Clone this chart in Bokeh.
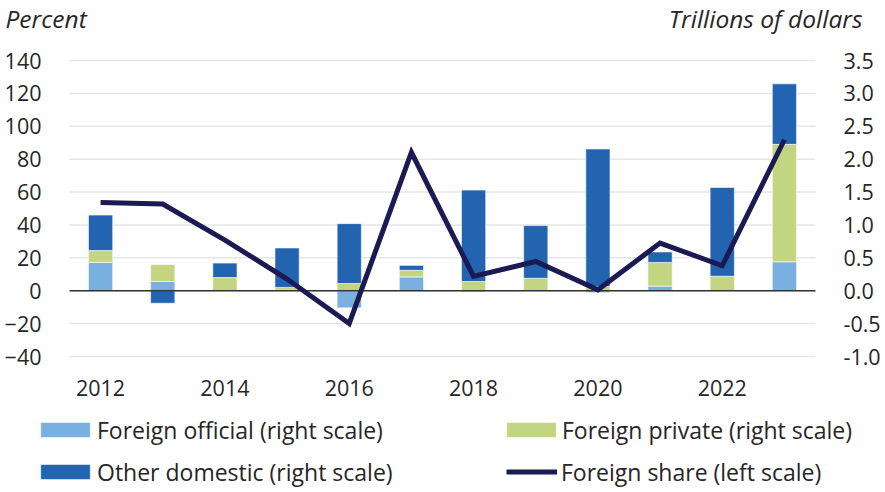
from bokeh.plotting import figure
from bokeh.models import (ColumnDataSource, Range1d, LinearAxis, FixedTicker,
                          Legend, LegendItem, Label, NumeralTickFormatter)
from bokeh.embed import file_html
from bokeh.resources import INLINE

years = [2012, 2013, 2014, 2015, 2016, 2017, 2018, 2019, 2020, 2021, 2022, 2023]
foreign_official = [0.43, 0.14, 0.00, 0.01, -0.26, 0.21, -0.02, 0.00, -0.03, 0.07, 0.00, 0.44]
foreign_private = [0.18, 0.26, 0.20, 0.04, 0.11, 0.10, 0.14, 0.19, 0.065, 0.36, 0.22, 1.785]
other_domestic = [0.54, -0.19, 0.22, 0.60, 0.91, 0.075, 1.39, 0.80, 2.09, 0.16, 1.35, 0.92]
foreign_share = [53.7, 52.7, 30.8, 7.1, -19.9, 84.1, 8.7, 17.8, 0.6, 29.0, 15.2, 91.8]

left_ticks = [-40, -20, 0, 20, 40, 60, 80, 100, 120, 140]
right_ticks = [-1.0, -0.5, 0.0, 0.5, 1.0, 1.5, 2.0, 2.5, 3.0, 3.5]
year_ticks = [2012, 2014, 2016, 2018, 2020, 2022]

names = ["Foreign official (right scale)", "Foreign private (right scale)",
         "Other domestic (right scale)"]
share_name = "Foreign share (left scale)"
left_title = "Percent"
right_title = "Trillions of dollars"
colors = ["#7AB0DF", "#C3D580", "#2264B0"]
line_color = "#1C1A52"
FONT = "Open Sans"
TXT = "#262626"

W, H = 885, 492
# plot area (in pixels) inside the full-canvas frame
PL, PR, PT, PB = 69, 815, 60, 356
X0, X1 = years[0] - 0.5, years[-1] + 0.5
Y0, Y1 = left_ticks[0], left_ticks[-1]
RATIO = 40.0  # percent per trillion
sx = (PR - PL) / (X1 - X0)
sy = (PB - PT) / (Y1 - Y0)
x_range = Range1d(X0 - PL / sx, X1 + (W - PR) / sx)
y_lo, y_hi = Y0 - (H - PB) / sy, Y1 + PT / sy

# positive / negative stacking
series = [foreign_official, foreign_private, other_domestic]
pos = [0.0] * len(years)
neg = [0.0] * len(years)
stacks = []
for s in series:
    bottoms, tops = [], []
    for i, v in enumerate(s):
        if v >= 0:
            bottoms.append(pos[i]); tops.append(pos[i] + v); pos[i] += v
        else:
            bottoms.append(neg[i]); tops.append(neg[i] + v); neg[i] += v
    stacks.append((bottoms, tops))

p = figure(width=W, height=H, output_backend="svg", toolbar_location=None,
           x_range=x_range, y_range=Range1d(y_lo, y_hi), min_border=0)
p.outline_line_color = None
p.extra_y_ranges = {"tr": Range1d(y_lo / RATIO, y_hi / RATIO)}
p.xgrid.visible = False
p.ygrid.visible = False

def style_axis(ax, standoff):
    ax.axis_line_color = None
    ax.major_tick_line_color = None
    ax.minor_tick_line_color = None
    ax.major_label_text_font = FONT
    ax.major_label_text_font_size = "21.5px"
    ax.major_label_text_color = TXT
    ax.major_label_standoff = standoff

p.yaxis.ticker = FixedTicker(ticks=left_ticks)
p.yaxis.fixed_location = X0
style_axis(p.yaxis[0], 22)
p.xaxis.ticker = FixedTicker(ticks=year_ticks)
p.xaxis.fixed_location = Y0
style_axis(p.xaxis[0], 17)

rax = LinearAxis(y_range_name="tr", ticker=FixedTicker(ticks=right_ticks),
                 formatter=NumeralTickFormatter(format="0.0"), fixed_location=X1)
style_axis(rax, 22)
p.add_layout(rax, "right")

# horizontal grid lines limited to the plot area
n = len(left_ticks)
p.segment(x0=[X0] * n, x1=[X1] * n, y0=left_ticks, y1=left_ticks,
          line_color="#E6E6E6", line_width=1.5)

rs = []
for (b, t), c in zip(stacks, colors):
    src = ColumnDataSource(dict(x=years, bottom=b, top=t))
    rs.append(p.vbar(x="x", bottom="bottom", top="top", width=0.39, source=src,
                     y_range_name="tr", fill_color=c, line_color="white", line_width=0.6))

p.segment(x0=[X0], x1=[X1], y0=[0], y1=[0], line_color="#333333", line_width=1.5)
lr = p.line(years, foreign_share, line_color=line_color, line_width=5, line_join="miter")

for txt, x, align in [(left_title, 5, "left"), (right_title, 862, "right")]:
    p.add_layout(Label(x=x, y=H - 18, x_units="screen", y_units="screen", text=txt,
                       text_font=FONT, text_font_style="italic", text_font_size="24.5px",
                       text_color=TXT, text_baseline="middle", text_align=align))

def make_legend(renderer, label, x, y, gw, gh, standoff):
    leg = Legend(items=[LegendItem(label=label, renderers=[renderer])],
                 location=(x, y), orientation="vertical",
                 label_text_font=FONT, label_text_font_size="23px", label_text_color=TXT,
                 glyph_width=gw, glyph_height=gh, label_standoff=standoff,
                 label_height=31, padding=0, margin=0,
                 border_line_color=None, background_fill_alpha=0)
    p.add_layout(leg, "center")

# legend rows centred at y=430 and y=472 (from top)
make_legend(rs[0], names[0], 34, 46.5, 62, 19, 1)
make_legend(rs[2], names[2], 34, 4.5, 62, 19, 1)
make_legend(rs[1], names[1], 500, 46.5, 62, 19, 0)
make_legend(lr, share_name, 506, 4.5, 51, 19, 4)

open("out.html", "w").write(file_html(p, INLINE))
